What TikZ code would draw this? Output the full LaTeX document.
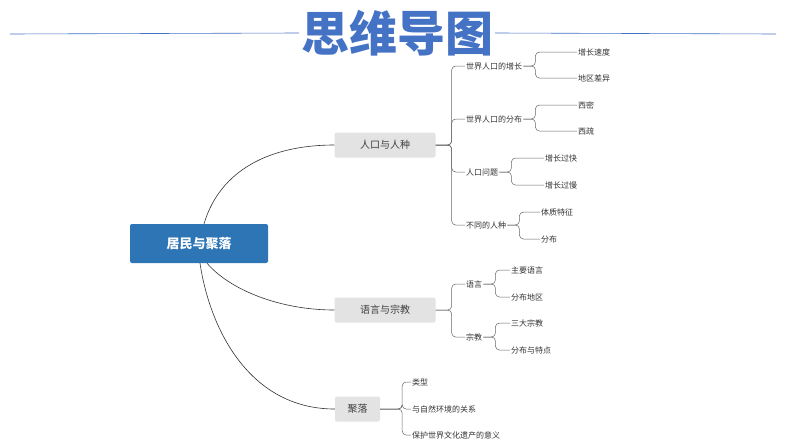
\documentclass[tikz,border=0pt]{standalone}
\usepackage{fontspec}
\setmainfont{Noto Sans CJK SC}
\newfontfamily\cjkb{Noto Sans CJK SC Black}
\begin{document}
\begin{tikzpicture}[x=1pt,y=-1pt,
  lvone/.style={fill=gray!22,rounded corners=2pt,minimum height=25pt,minimum width=101pt,font=\fontsize{10}{12}\selectfont,text=black!75},
  leaf/.style={anchor=west,inner sep=1pt,font=\fontsize{8}{9}\selectfont,text=black!80},
  conn/.style={draw=black!80,line width=0.6pt},
  br/.style={draw=black!60,line width=0.5pt,rounded corners=4pt}]
\useasboundingbox (0,0) rectangle (794,447);
\fill[white] (0,0) rectangle (794,447);
\node[font=\cjkb\fontsize{48}{52}\selectfont,text={rgb,255:red,68;green,114;blue,196},inner sep=2pt] (title) at (397,33) {思维导图};
\draw[draw={rgb,255:red,68;green,114;blue,196},line width=0.6pt] (10,34) -- (title.west) (title.east) -- (776,34);
\node[fill={rgb,255:red,46;green,117;blue,182},rounded corners=2pt,minimum width=138pt,minimum height=39pt,text=white,font=\bfseries\fontsize{13}{15}\selectfont] (root) at (199,243.5) {居民与聚落};
\node[lvone] (a) at (385,145) {人口与人种};
\node[lvone] (b) at (385,310) {语言与宗教};
\node[lvone,minimum width=45pt] (c) at (357.5,409) {聚落};
\draw[conn] (root.north) ++(5,0) coordinate (r1) .. controls (220,170) and (270,145) .. (a.west);
\draw[conn] (root.south) ++(8,0) coordinate (r2) .. controls (230,290) and (280,310) .. (b.west);
\draw[conn] (root.south) ++(1,0) coordinate (r3) .. controls (210,330) and (250,409) .. (c.west);
\node[leaf] (a1) at (465,66) {世界人口的增长};
\node[leaf] (a2) at (465,119) {世界人口的分布};
\node[leaf] (a3) at (465,172) {人口问题};
\node[leaf] (a4) at (465,225) {不同的人种};
\foreach \n in {a1,a2,a3,a4} \draw[br] (a.east) -- ++(16,0) |- (\n.west);
\node[leaf] (a11) at (577,52) {增长速度};
\node[leaf] (a12) at (577,78) {地区差异};
\node[leaf] (a21) at (577,105) {西密};
\node[leaf] (a22) at (577,131) {西疏};
\node[leaf] (a31) at (544,158) {增长过快};
\node[leaf] (a32) at (544,185) {增长过慢};
\node[leaf] (a41) at (540,212) {体质特征};
\node[leaf] (a42) at (540,239) {分布};
\foreach \p/\c in {a1/a11,a1/a12,a2/a21,a2/a22,a3/a31,a3/a32,a4/a41,a4/a42}
  \draw[br] (\p.east) -- ++(12,0) |- (\c.west);
\node[leaf] (b1) at (465,284) {语言};
\node[leaf] (b2) at (465,337) {宗教};
\foreach \n in {b1,b2} \draw[br] (b.east) -- ++(16,0) |- (\n.west);
\node[leaf] (b11) at (510,270) {主要语言};
\node[leaf] (b12) at (510,297) {分布地区};
\node[leaf] (b21) at (510,323) {三大宗教};
\node[leaf] (b22) at (510,350) {分布与特点};
\foreach \p/\c in {b1/b11,b1/b12,b2/b21,b2/b22}
  \draw[br] (\p.east) -- ++(12,0) |- (\c.west);
\node[leaf] (c1) at (411,382) {类型};
\node[leaf] (c2) at (411,409) {与自然环境的关系};
\node[leaf] (c3) at (411,435) {保护世界文化遗产的意义};
\foreach \n in {c1,c2,c3} \draw[br] (c.east) -- ++(22,0) |- (\n.west);
\end{tikzpicture}
\end{document}
